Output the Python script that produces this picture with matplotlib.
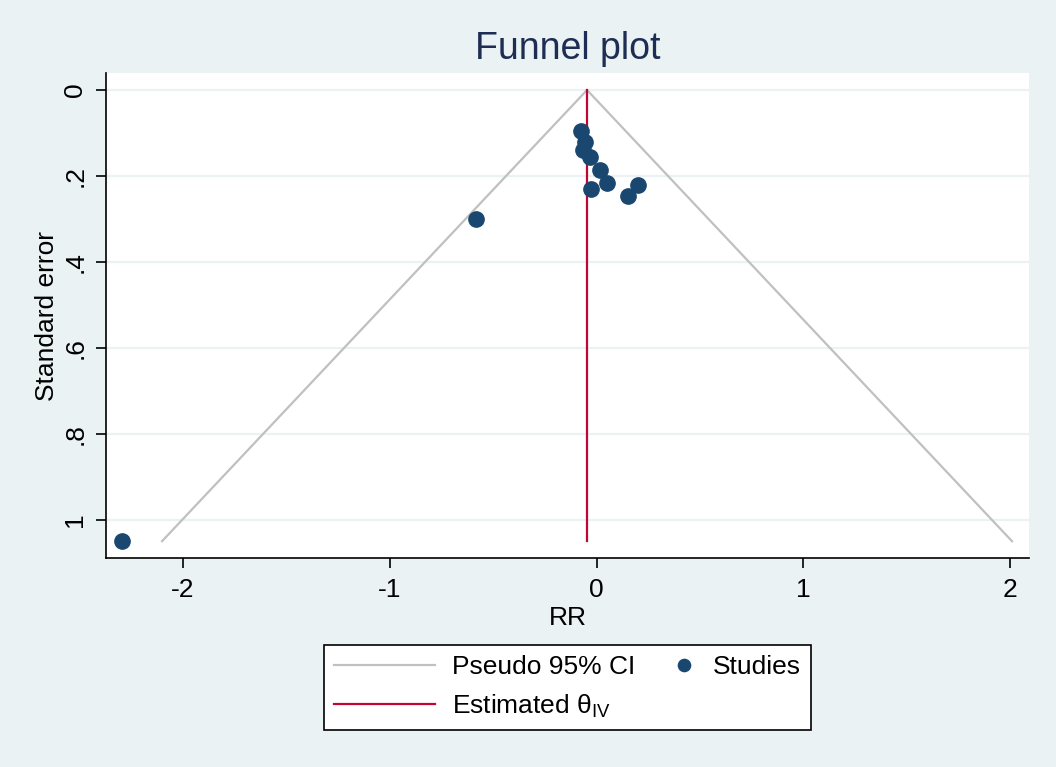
import numpy as np
import matplotlib
matplotlib.use("Agg")
from matplotlib import pyplot as plt
from matplotlib.legend_handler import HandlerLine2D

plt.rcParams['font.family'] = ['Liberation Sans', 'DejaVu Sans']
plt.rcParams['mathtext.fontset'] = 'custom'
plt.rcParams['mathtext.rm'] = 'Liberation Sans'
plt.rcParams['mathtext.it'] = 'Liberation Sans'

# study estimates (log RR) and their standard errors
rr = [-2.296, -0.583, -0.077, -0.056, -0.064, -0.031, 0.017, 0.049, -0.028, 0.151, 0.202]
se = [1.049, 0.300, 0.095, 0.122, 0.140, 0.155, 0.186, 0.217, 0.229, 0.247, 0.221]
theta_iv = -0.046

xticks = [-2, -1, 0, 1, 2]
yticks = [0, 0.2, 0.4, 0.6, 0.8, 1]
yticklabels = ["0", ".2", ".4", ".6", ".8", "1"]

bg = '#eaf2f3'
navy = '#1a476f'


# marker sits at the right end of its key, like Stata's legend
class MarkerRight(HandlerLine2D):
    def get_xdata(self, legend, xdescent, ydescent, width, height, fontsize):
        m = -xdescent + width - 0.45 * fontsize
        return np.array([m - 1.0, m + 1.0]), np.array([m])


fig = plt.figure(figsize=(10.56, 7.67), dpi=100, facecolor=bg)
ax = fig.add_axes([0.1004, 0.2725, 0.874, 0.6323])
ax.set_facecolor('white')

se_max = max(se)
ci_x = [theta_iv - 1.96 * se_max, theta_iv, theta_iv + 1.96 * se_max]
ci_y = [se_max, 0, se_max]
ci_line, = ax.plot(ci_x, ci_y, color='#c0c0c0', lw=1.6, zorder=2)
est_line, = ax.plot([theta_iv, theta_iv], [0, se_max], color='#c10534', lw=1.6, zorder=3)
pts, = ax.plot(rr, se, 'o', color=navy, ms=11, mec=navy, zorder=4, ls='none')

ax.set_xlim(-2.373, 2.092)
ax.set_ylim(1.088, -0.0395)

ax.set_xticks(xticks)
ax.set_xticklabels([str(t) for t in xticks])
ax.set_yticks(yticks)
ax.set_yticklabels(yticklabels, rotation=90, va='center')
ax.tick_params(axis='both', direction='out', length=7.5, width=1.2, labelsize=19, colors='black')
ax.tick_params(axis='y', pad=6)
ax.tick_params(axis='x', pad=7)

ax.yaxis.grid(True, color=bg, lw=1.6, zorder=0)
ax.set_axisbelow(True)

for s in ['top', 'right']:
    ax.spines[s].set_visible(False)
for s in ['left', 'bottom']:
    ax.spines[s].set_linewidth(1.2)
    ax.spines[s].set_color('black')

ax.set_xlabel('RR', fontsize=19, labelpad=3)
ax.set_ylabel('Standard error', fontsize=19, labelpad=3)
ax.set_title('Funnel plot', fontsize=27, color='#1e2d53', pad=10)

leg = fig.legend([ci_line, est_line, pts],
                 ['Pseudo 95% CI', r'Estimated θ$_{\mathregular{IV}}$', 'Studies'],
                 handler_map={pts: MarkerRight(numpoints=1)},
                 ncol=2, loc='center', bbox_to_anchor=(567.5 / 1056, 1 - 687.5 / 767),
                 fontsize=19, frameon=True, fancybox=False, edgecolor='black',
                 facecolor='white', framealpha=1, handlelength=3.8, columnspacing=-1.5,
                 handletextpad=0.65, borderpad=0.38, labelspacing=0.5, markerscale=0.8)
leg.get_frame().set_linewidth(1.2)

fig.savefig('out.png', dpi=100, facecolor=bg)
